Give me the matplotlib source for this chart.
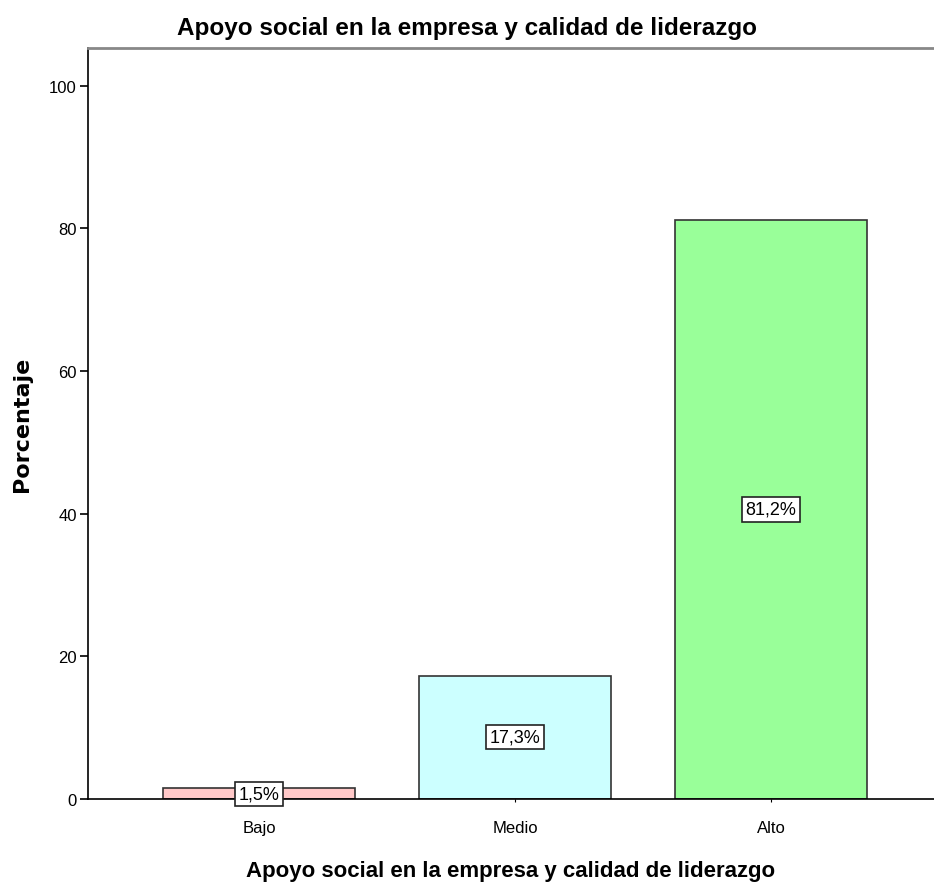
import matplotlib.pyplot as plt
from matplotlib import font_manager

categorias = ['Bajo', 'Medio', 'Alto']
porcentajes = [1.5, 17.3, 81.2]
etiquetas = ['1,5%', '17,3%', '81,2%']
colores = ['#FFC8C8', '#CCFFFF', '#99FF99']
yticks = [0, 20, 40, 60, 80, 100]

names = {f.name for f in font_manager.fontManager.ttflist}
narrow = 'Liberation Sans Narrow' if 'Liberation Sans Narrow' in names else 'Liberation Sans'
plt.rcParams['font.family'] = [narrow, 'DejaVu Sans']

fig = plt.figure(figsize=(9.34, 8.87), dpi=100)
ax = fig.add_axes([88 / 934, 1 - 800 / 887, 1 - 88 / 934, (800 - 49) / 887])

x = list(range(len(categorias)))
ax.bar(x, porcentajes, width=0.75, color=colores, edgecolor='#333333', linewidth=1.2, zorder=2)

for xi, v, t in zip(x, porcentajes, etiquetas):
    ax.text(xi, v / 2, t, ha='center', va='center', fontsize=13, zorder=3,
            bbox=dict(boxstyle='square,pad=0.2', facecolor='white', edgecolor='#222222', linewidth=1.2))

ax.set_xlim(-0.668, 2.637)
ax.set_ylim(0, 105.3)
ax.set_xticks(x)
ax.set_xticklabels(categorias, fontsize=12)
ax.set_yticks(yticks)
ax.set_yticklabels([str(t) for t in yticks], fontsize=12)
ax.tick_params(axis='y', direction='out', length=6, width=1.2, pad=2)
ax.tick_params(axis='x', direction='out', length=2, width=0.8, pad=13)

ax.spines['right'].set_visible(False)
ax.spines['top'].set_color('#888888')
ax.spines['top'].set_linewidth(2)
ax.spines['left'].set_linewidth(1.2)
ax.spines['bottom'].set_linewidth(1.2)

fig.text(0.5, 1 - 28 / 887, 'Apoyo social en la empresa y calidad de liderazgo',
         ha='center', va='center', fontsize=17.5, fontweight='bold')
ax.set_xlabel('Apoyo social en la empresa y calidad de liderazgo', fontsize=16, fontweight='bold', labelpad=18)
ax.set_ylabel('Porcentaje', fontsize=16, fontweight='bold', family=['DejaVu Sans'], labelpad=12)

fig.savefig('out.png', dpi=100)
